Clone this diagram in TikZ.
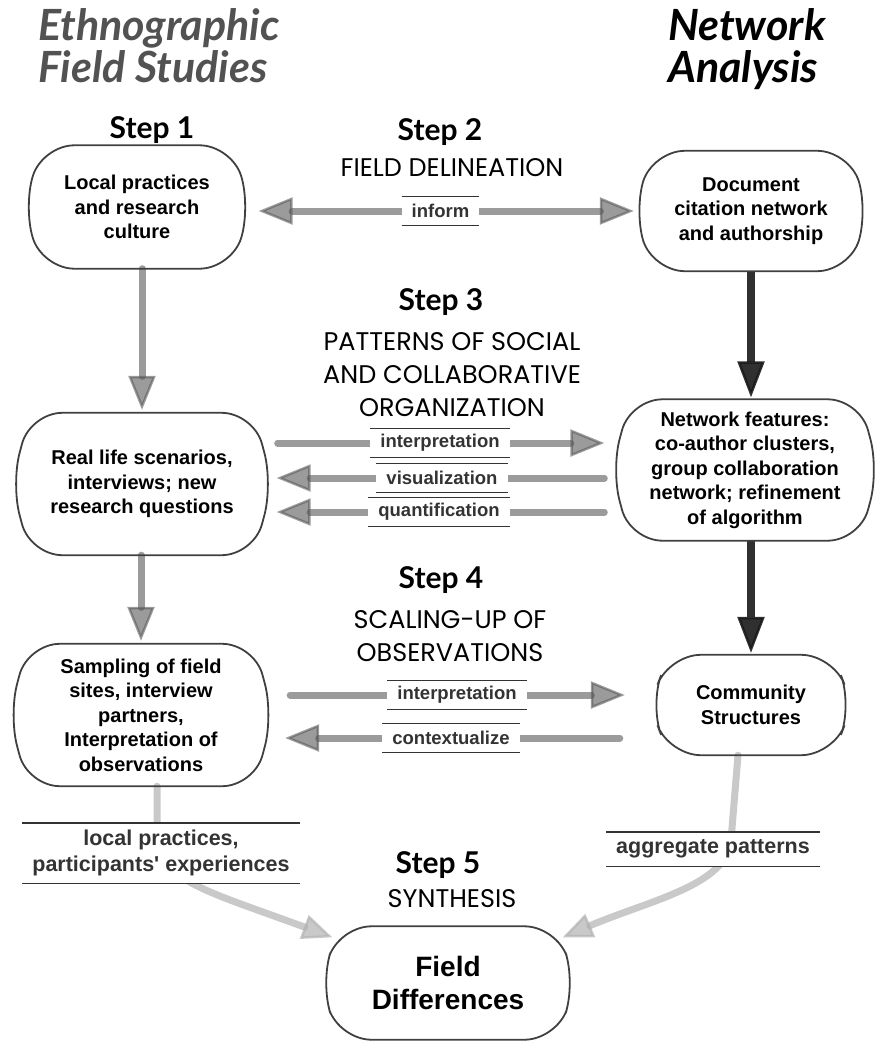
\documentclass[tikz,border=0pt]{standalone}
\usepackage{fontspec}
\setmainfont{Liberation Sans}
\newfontfamily\headfont{Lato}
\newfontfamily\capsfont{Poppins}
\usetikzlibrary{arrows.meta,backgrounds}

\begin{document}
\begin{tikzpicture}
[x=1pt, y=-1pt,
box/.style={align=center, inner sep=0pt, font=\fontsize{20}{24.5}\selectfont\bfseries},
boxline/.style={draw=black!75, line width=1.8pt, rounded corners=32pt},
title/.style={font=\headfont\bfseries\itshape\fontsize{43}{42}\selectfont, align=left, inner sep=0pt, anchor=north west},
stepnum/.style={font=\headfont\bfseries\fontsize{30}{32}\selectfont, inner sep=0pt},
stepname/.style={font=\capsfont\fontsize{25.5}{33}\selectfont, align=center, inner sep=0pt},
tag/.style={fill=white, inner xsep=10pt, inner ysep=0pt, minimum height=29pt, text=black!80,
  font=\fontsize{18.5}{22}\selectfont\bfseries,
  append after command={(\tikzlastnode.north west) edge[draw=black!80, line width=1.4pt] (\tikzlastnode.north east)
    (\tikzlastnode.south west) edge[draw=black!80, line width=1.4pt] (\tikzlastnode.south east)}},
bigtag/.style={tag, align=center, font=\fontsize{21.5}{26}\selectfont\bfseries},
garrow/.style={draw=black!65, line width=7pt, opacity=0.6, line cap=round,
  >={Triangle[length=34pt, width=27pt, line width=2.5pt]}},
barrow/.style={draw=black!90, line width=8.5pt, opacity=0.9,
  >={Triangle[length=36pt, width=27pt, line width=2.5pt]}},
larrow/.style={draw=black!30, line width=7pt, opacity=0.7, line cap=round,
  >={Triangle[length=30pt, width=25pt, line width=2.5pt]}}]
  \useasboundingbox (0,0) rectangle (878,1043);

  % column heads
  \node[title, text=black!68] (ethno) at (38,8) {Ethnographic\\Field Studies};
  \node[title] (netw) at (668,8) {Network\\Analysis};

  % boxes
  \node[box, minimum width=221pt, minimum height=123pt] (local) at (137,207) {Local practices\\and research\\culture};
  \node[box, minimum width=228pt, minimum height=120pt] (doc) at (751,211) {Document\\citation network\\and authorship};
  \node[box, minimum width=255pt, minimum height=142pt] (real) at (142,484) {Real life scenarios,\\interviews; new\\research questions};
  \node[box, minimum width=261pt, minimum height=141pt] (netf) at (745,470) {Network features:\\co-author clusters,\\group collaboration\\network; refinement\\of algorithm};
  \node[box, minimum width=258pt, minimum height=142pt] (samp) at (141,715) {Sampling of field\\sites, interview\\partners,\\Interpretation of\\observations};
  \node[box, minimum width=196pt, minimum height=100pt] (comm) at (751,705) {Community\\Structures};
  \node[box, minimum width=249pt, minimum height=113pt, font=\fontsize{28}{33}\selectfont\bfseries] (fd) at (448,983) {Field\\Differences};
  \foreach \b in {local,doc,real,netf,samp,comm,fd}
    \draw[boxline] ([xshift=16pt]\b.north west) -- ([xshift=-16pt]\b.north east) -- ([xshift=3pt]\b.east)
      -- ([xshift=-16pt]\b.south east) -- ([xshift=16pt]\b.south west) -- ([xshift=-3pt]\b.west) -- cycle;

  % steps
  \node[stepnum] (s1) at (152,130) {Step 1};
  \node[stepnum] (s2) at (440,132) {Step 2};
  \node[stepname] (s2n) at (452,168) {FIELD DELINEATION};
  \node[stepnum] (s3) at (441,302) {Step 3};
  \node[stepname] (s3n) at (452,375) {PATTERNS OF SOCIAL\\AND COLLABORATIVE\\ORGANIZATION};
  \node[stepnum] (s4) at (441,580) {Step 4};
  \node[stepname] (s4n) at (450,636) {SCALING-UP OF\\OBSERVATIONS};
  \node[stepnum] (s5) at (438,865) {Step 5};
  \node[stepname] (s5n) at (452,899) {SYNTHESIS};

  % labels on the arrows
  \node[tag] (inf) at (440.5,211) {inform};
  \node[tag] (int3) at (440,443) {interpretation};
  \node[tag] (vis3) at (442,478) {visualization};
  \node[tag] (qua3) at (439,512) {quantification};
  \node[tag] (int4) at (457,695) {interpretation};
  \node[tag] (ctx4) at (451,738) {contextualize};
  \node[bigtag, minimum height=60pt] (lp) at (161,853) {local practices,\\participants\textquotesingle{} experiences};
  \node[bigtag, minimum height=34pt] (agg) at (713,849) {aggregate patterns};

  \begin{scope}[on background layer]
  \draw[garrow, <->, shorten <=11pt, shorten >=3pt] (local.east |- inf) -- (doc.west |- inf);
  \draw[garrow, ->, shorten >=3pt] (real.north |- local.south) -- (real.north);
  \draw[garrow, ->, shorten >=3pt] (samp.north |- real.south) -- (samp.north);
  \draw[barrow, ->, shorten >=2pt] (doc.south) -- (doc.south |- netf.north);
  \draw[barrow, ->, shorten >=2pt] (comm.north |- netf.south) -- (comm.north);
  \draw[garrow, ->, shorten <=8pt, shorten >=10pt] (real.east |- int3) -- (netf.west |- int3);
  \draw[garrow, <-, shorten <=7pt, shorten >=10pt] (real.east |- vis3) -- (netf.west |- vis3);
  \draw[garrow, <-, shorten <=7pt, shorten >=10pt] (real.east |- qua3) -- (netf.west |- qua3);
  \draw[garrow, ->, shorten <=20pt, shorten >=28pt] (samp.east |- int4) -- (comm.west |- int4);
  \draw[garrow, <-, shorten <=15pt, shorten >=33pt] (samp.east |- ctx4) -- (comm.west |- ctx4);
  \draw[larrow, ->] ([xshift=16pt]samp.south) -- ++(0,44) .. controls +(0,50) and +(-133,-49) .. ([xshift=9pt,yshift=-11pt]fd.north west);
  \draw[larrow, ->] ([xshift=-13pt]comm.south) -- ++(-7,85) .. controls +(-4,45) and +(87,-37) .. ([xshift=-10pt,yshift=-11pt]fd.north east);
  \end{scope}
\end{tikzpicture}
\end{document}
